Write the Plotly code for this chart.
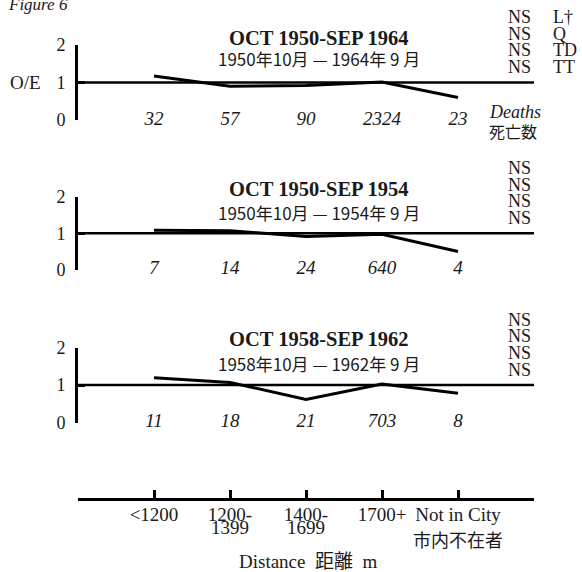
import plotly.graph_objects as go

# ---------------- data ----------------
categories = ["<1200", "1200-1399", "1400-1699", "1700+", "Not in City"]
tick_line1 = ["<1200", "1200-", "1400-", "1700+", "Not in City"]
tick_line2 = ["", "1399", "1699", "", ""]
not_in_city_jp = "市内不在者"

periods_en = ["OCT 1950-SEP 1964", "OCT 1950-SEP 1954", "OCT 1958-SEP 1962"]
periods_jp = ["1950年10月 — 1964年 9 月", "1950年10月 — 1954年 9 月", "1958年10月 — 1962年 9 月"]

oe_1950_1964 = [1.17, 0.90, 0.92, 1.01, 0.60]
oe_1950_1954 = [1.08, 1.07, 0.91, 0.97, 0.50]
oe_1958_1962 = [1.20, 1.07, 0.62, 1.03, 0.78]

deaths_1950_1964 = [32, 57, 90, 2324, 23]
deaths_1950_1954 = [7, 14, 24, 640, 4]
deaths_1958_1962 = [11, 18, 21, 703, 8]

tests = ["L†", "Q", "TD", "TT"]
significance = ["NS", "NS", "NS", "NS"]

oe_series = [oe_1950_1964, oe_1950_1954, oe_1958_1962]
death_series = [deaths_1950_1964, deaths_1950_1954, deaths_1958_1962]

# ---------------- layout helpers ----------------
W, H = 582, 572
SERIF = "Liberation Serif, Times New Roman, serif"
CJK = "Noto Sans CJK JP, sans-serif"
MIXED = "Liberation Serif, Noto Sans CJK JP, serif"
INK = "#1a1a1a"


def px(p):
    return p / W


def py(p):
    # vertical pixel position (from top) -> paper fraction, with a small
    # calibration so that the photographed page lines up with the reference
    q = (p - 9) / 0.966
    return 1 - q / H


def note(text, x, y, size, family=SERIF, xanchor="center", xref="paper"):
    return dict(text=text, x=x, y=py(y), xref=xref, yref="paper",
                xanchor=xanchor, yanchor="middle", showarrow=False,
                font=dict(family=family, size=size, color=INK))


# pixel positions: (y of value 0, y of value 2, y of reference line)
panels_px = [(119, 44, 82), (269, 196, 233), (422, 347, 385)]
title_off = [45, 45, 47]
sub_off = [24, 21, 22]
x_dom = [px(78), px(534)]
xs = list(range(len(categories)))

fig = go.Figure()
annotations = []
shapes = []

for k in range(3):
    ax = "" if k == 0 else str(k + 1)
    xref, yref = "x" + ax, "y" + ax
    y0p, y2p, y1p = panels_px[k]

    fig.add_trace(go.Scatter(
        x=xs, y=oe_series[k], mode="lines",
        line=dict(color="black", width=3),
        xaxis=xref, yaxis=yref, hoverinfo="skip", showlegend=False))
    fig.add_trace(go.Scatter(
        x=xs, y=[0] * len(xs), mode="text",
        text=[f"<i>{d}</i>" for d in death_series[k]],
        textposition="middle center",
        textfont=dict(family=SERIF, size=19, color=INK),
        cliponaxis=False,
        xaxis=xref, yaxis=yref, hoverinfo="skip", showlegend=False))

    fig.layout[("xaxis" + ax)] = dict(
        domain=x_dom, range=[-1, 5], anchor=yref,
        visible=False, showgrid=False, zeroline=False)
    fig.layout[("yaxis" + ax)] = dict(
        domain=[py(y0p), py(y2p)], range=[0, 2], anchor=xref,
        showline=True, linewidth=3, linecolor="black",
        ticks="inside", ticklen=7, tickwidth=3, tickcolor="black",
        tickvals=[0, 1, 2], ticktext=["0", "1", "2"],
        tickfont=dict(family=SERIF, size=18, color=INK),
        ticklabelstandoff=6,
        showgrid=False, zeroline=False)

    shapes.append(dict(type="line", xref=xref + " domain", yref=yref,
                       x0=0, x1=1, y0=1, y1=1,
                       line=dict(color="black", width=2.5)))

    annotations.append(note(f"<b>{periods_en[k]}</b>", px(319), y1p - title_off[k], 20.5))
    annotations.append(note(periods_jp[k], px(319), y1p - sub_off[k], 17, family=CJK))

    for i, s in enumerate(significance):
        yy = y1p - 66 + i * 16.7
        annotations.append(note(s, px(519), yy, 18))
        if k == 0:
            annotations.append(note(tests[i], px(551), yy, 18, xanchor="left"))

# O/E label, Figure label, Deaths legend
annotations.append(note("O/E", px(25), 82, 19))
annotations.append(note("<i>Figure 6</i>", px(6), 3, 17, xanchor="left"))
annotations.append(note("<i>Deaths</i>", px(487), 111, 18, xanchor="left"))
annotations.append(note("死亡数", px(487), 130, 16, family=CJK, xanchor="left"))

# ---------------- bottom distance axis ----------------
fig.add_trace(go.Scatter(x=xs, y=[0] * len(xs), mode="markers", marker=dict(opacity=0),
                         xaxis="x4", yaxis="y4", hoverinfo="skip", showlegend=False))
fig.add_trace(go.Scatter(x=xs, y=[0] * len(xs), mode="markers", marker=dict(opacity=0),
                         xaxis="x5", yaxis="y4", hoverinfo="skip", showlegend=False))

fig.layout["xaxis4"] = dict(
    domain=x_dom, range=[-1, 5], anchor="y4", side="bottom",
    showline=True, linewidth=3, linecolor="black",
    ticks="inside", ticklen=8, tickwidth=3, tickcolor="black",
    tickvals=xs, ticktext=tick_line1,
    tickfont=dict(family=SERIF, size=19, color=INK),
    ticklabelstandoff=-2,
    showgrid=False, zeroline=False)
fig.layout["xaxis5"] = dict(
    overlaying="x4", range=[-1, 5], anchor="y4", side="bottom",
    showline=False, ticks="",
    tickvals=xs, ticktext=tick_line2,
    tickfont=dict(family=SERIF, size=19, color=INK),
    ticklabelstandoff=16,
    showgrid=False, zeroline=False)
fig.layout["yaxis4"] = dict(domain=[py(497), py(480)], range=[0, 1], anchor="x4",
                            visible=False, showgrid=False, zeroline=False)

annotations.append(note(not_in_city_jp, 4, 539, 18, family=CJK, xref="x4"))
annotations.append(note("Distance  距離  m", px(308), 561, 19, family=MIXED))

fig.update_layout(
    width=W, height=H, autosize=False,
    margin=dict(l=0, r=0, t=0, b=0),
    paper_bgcolor="white", plot_bgcolor="white",
    showlegend=False,
    annotations=annotations, shapes=shapes,
)

fig.write_html(
    "out.html",
    config={"displayModeBar": False, "staticPlot": True},
    post_script=(
        "document.documentElement.style.margin='0px';"
        "document.documentElement.style.overflow='hidden';"
        "document.body.style.margin='0px';"
        "document.body.style.padding='0px';"
        "document.body.style.overflow='hidden';"
    ),
)
